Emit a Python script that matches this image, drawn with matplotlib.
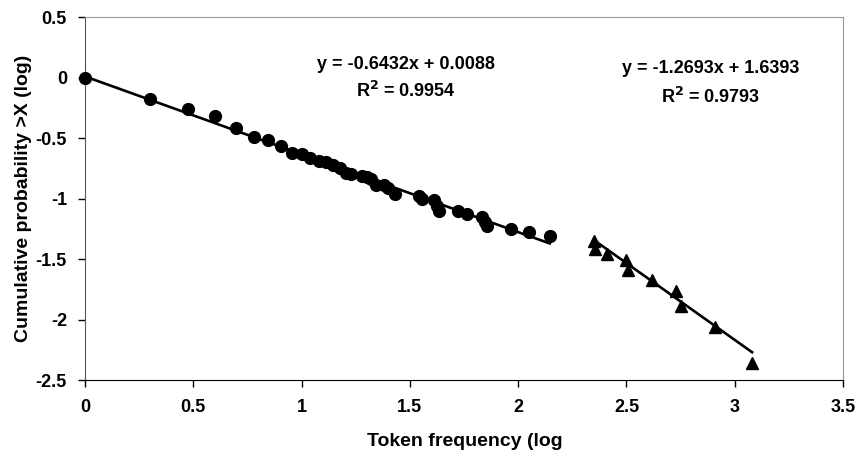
import numpy as np
import matplotlib
matplotlib.use('Agg')
import matplotlib.pyplot as plt

plt.rcParams['font.family'] = ['Liberation Sans', 'DejaVu Sans']
plt.rcParams['font.weight'] = 'bold'

# circles (low frequency part)
x_low = [0, 0.301, 0.477, 0.602, 0.699, 0.778, 0.845, 0.903, 0.954, 1.0,
         1.041, 1.079, 1.114, 1.146, 1.176, 1.204, 1.23, 1.279, 1.301, 1.322,
         1.342, 1.38, 1.398, 1.431, 1.54, 1.556, 1.613, 1.623, 1.633, 1.72,
         1.763, 1.833, 1.845, 1.857, 1.968, 2.049, 2.146]
y_low = [0, -0.18, -0.26, -0.32, -0.42, -0.49, -0.515, -0.57, -0.62, -0.63,
         -0.665, -0.69, -0.70, -0.725, -0.75, -0.79, -0.80, -0.81, -0.825, -0.84,
         -0.885, -0.89, -0.91, -0.965, -0.98, -1.0, -1.01, -1.06, -1.10, -1.10,
         -1.13, -1.15, -1.19, -1.225, -1.25, -1.275, -1.31]

# triangles (high frequency part)
x_high = [2.35, 2.355, 2.41, 2.50, 2.505, 2.62, 2.73, 2.75, 2.91, 3.08]
y_high = [-1.355, -1.42, -1.46, -1.51, -1.59, -1.67, -1.765, -1.885, -2.065, -2.36]

# trendlines as printed on the chart
fit_low = (-0.6432, 0.0088, 0.9954)
fit_high = (-1.2693, 1.6393, 0.9793)

fig = plt.figure(figsize=(8.57, 4.55), dpi=100)
ax = fig.add_axes([0.0992, 0.1648, 0.8845, 0.7978])

xl = np.array([min(x_low), max(x_low)])
xh = np.array([min(x_high), max(x_high)])
ax.plot(xl, fit_low[0] * xl + fit_low[1], color='black', lw=1.9, zorder=2)
ax.plot(xh, fit_high[0] * xh + fit_high[1], color='black', lw=1.9, zorder=2)
ax.plot(x_low, y_low, 'o', color='black', ms=8.5, zorder=3, clip_on=False)
ax.plot(x_high, y_high, '^', color='black', ms=9, zorder=3, clip_on=False)

# equation labels
ax.text(1.48, 0.105, 'y = -%.4fx + %.4f' % (-fit_low[0], fit_low[1]),
        ha='center', va='center', fontsize=13, fontweight='bold')
ax.text(1.48, -0.11, 'R$^2$ = %.4f' % fit_low[2],
        ha='center', va='center', fontsize=13, fontweight='bold')
ax.text(2.89, 0.078, 'y = -%.4fx + %.4f' % (-fit_high[0], fit_high[1]),
        ha='center', va='center', fontsize=13, fontweight='bold')
ax.text(2.89, -0.157, 'R$^2$ = %.4f' % fit_high[2],
        ha='center', va='center', fontsize=13, fontweight='bold')

ax.set_xlim(0, 3.5)
ax.set_ylim(-2.5, 0.5)
ax.set_xticks(np.arange(0, 3.51, 0.5))
ax.set_yticks(np.arange(-2.5, 0.51, 0.5))
ax.set_xticklabels(['0', '0.5', '1', '1.5', '2', '2.5', '3', '3.5'])
ax.set_yticklabels(['-2.5', '-2', '-1.5', '-1', '-0.5', '0', '0.5'])
ax.tick_params(direction='out', length=5, width=1, labelsize=13)
ax.tick_params(axis='y', pad=8)
ax.tick_params(axis='x', pad=9)

ax.spines['left'].set_color('#555555')
ax.spines['bottom'].set_color('black')
ax.spines['top'].set_color('#999999')
ax.spines['right'].set_color('#999999')

# x label is cut off in the original
fig.text(367 / 857, 1 - 441 / 455, 'Token frequency (log', ha='left', va='center',
         fontsize=14, fontweight='bold')
ax.set_ylabel('Cumulative probability >X (log)', fontsize=14, fontweight='bold')
ax.yaxis.set_label_coords(-0.07, 0.5)

fig.savefig('out.png', dpi=100)
